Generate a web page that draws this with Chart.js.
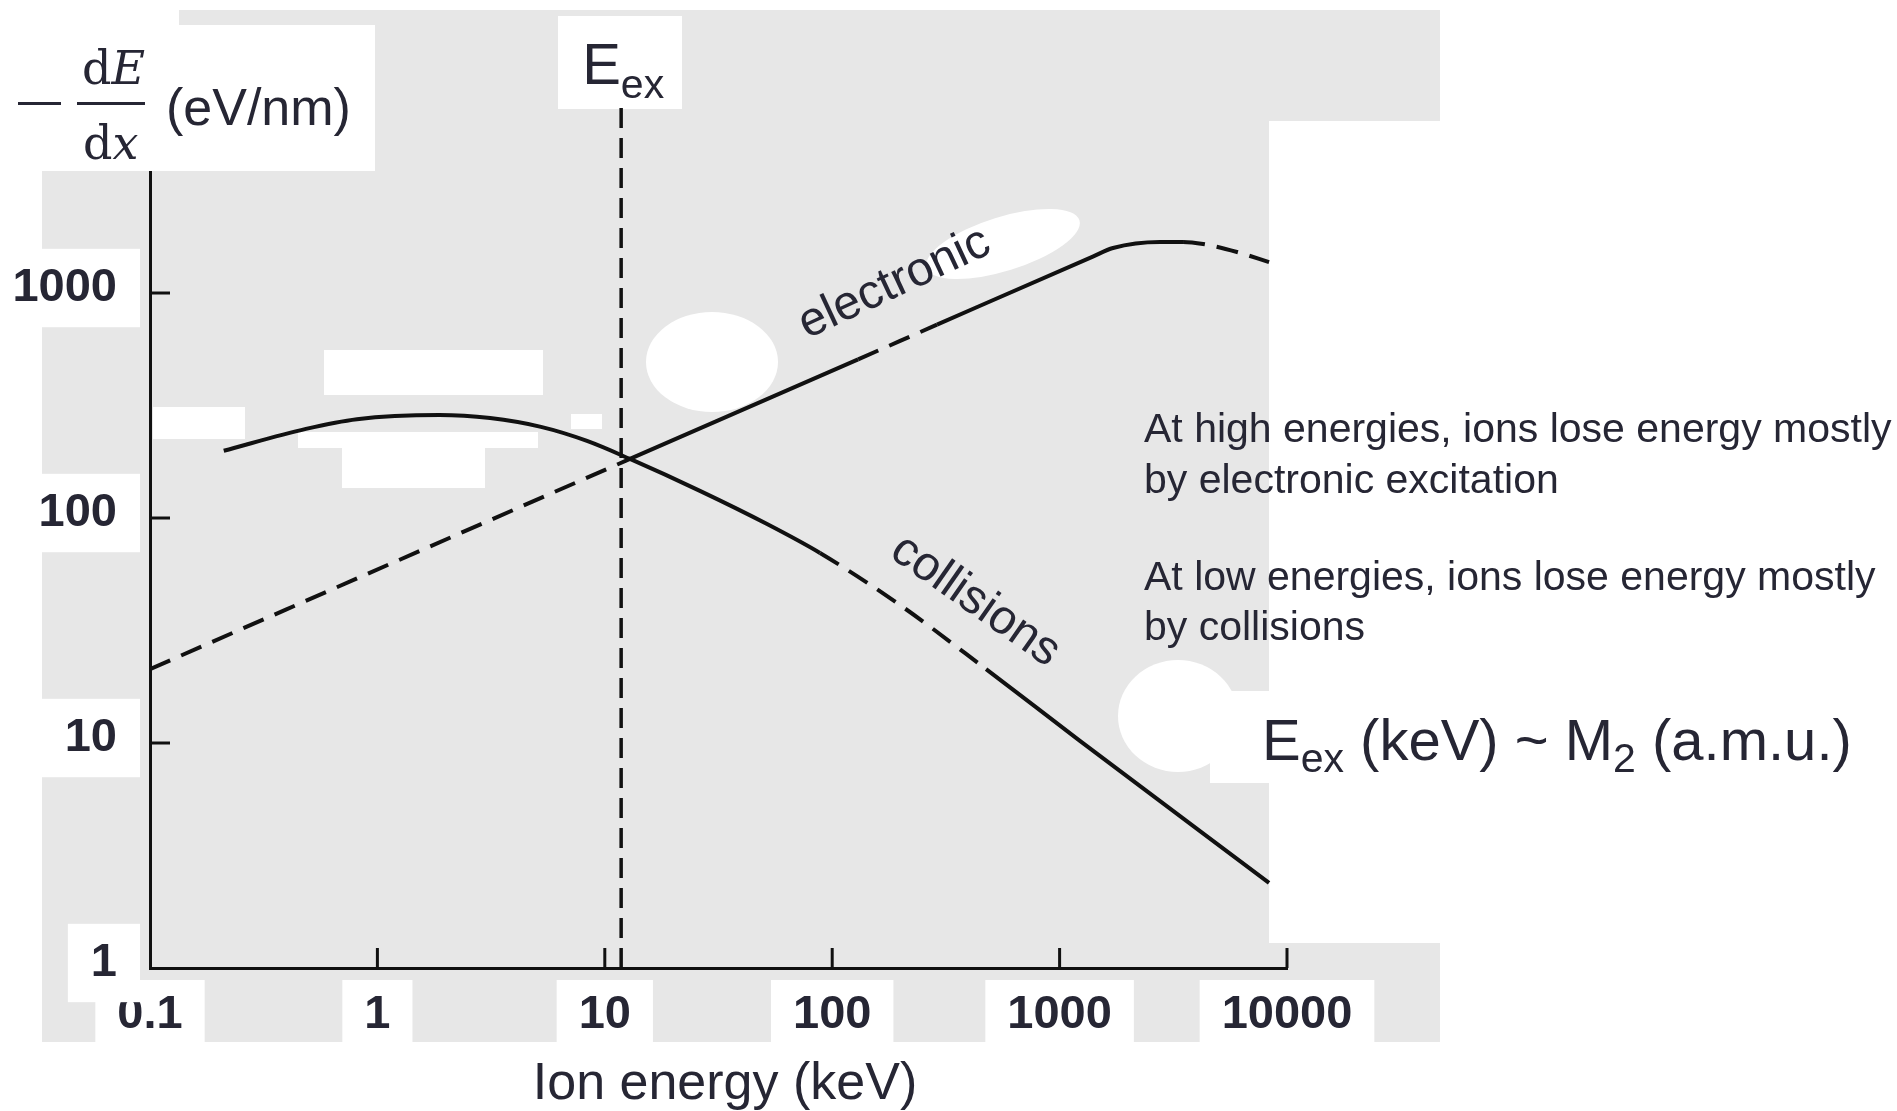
<!DOCTYPE html>
<html><head><meta charset="utf-8">
<script src="https://cdn.jsdelivr.net/npm/chart.js@4.4.1/dist/chart.umd.min.js"></script>
<style>html,body{margin:0;padding:0;background:#fff;overflow:hidden}#wrap{width:1897px;height:1111px}</style>
</head><body><div id="wrap"><canvas id="c" width="1897" height="1111"></canvas></div>
<script>
// ---- data ----
const electronicEnergy = [0.1, 12.9, 130, 289, 1400, 1717, 2762, 3490, 4276, 6026, 8337];
const electronicLoss   = [21.3, 183, 507, 723, 1452, 1585, 1686, 1686, 1651, 1521, 1373];
const electronicDashed = [[0.1, 12.9], [130, 289], [3490, 8337]];

const collisionEnergy = [0.211, 0.485, 0.813, 1.87, 3.13, 5.24, 8.35, 12.9, 26.2, 51.7, 88.4, 199, 475, 1216, 8337];
const collisionLoss   = [199, 249, 275, 287, 278, 254, 220, 183, 132, 94, 69.9, 41.0, 21.3, 10.3, 2.39];
const collisionDashed = [[88.4, 475]];

const eexEnergy = 11.8;
const eexLineRange = [1, 6710];

const xTickValues = [0.1, 1, 10, 100, 1000, 10000];
const xTickLabels = ['0.1', '1', '10', '100', '1000', '10000'];
const yTickValues = [1, 10, 100, 1000];
const yTickLabels = ['1', '10', '100', '1000'];
const xRange = [0.1, 10000];
const yRange = [1, 3450];

// ---- styling ----
const SANS = '"Liberation Sans", Arial, Helvetica, sans-serif';
const SERIF = '"DejaVu Serif", "Liberation Serif", serif';
const TEXT = '#262634';
const INK = '#111111';
const DASH = [22, 12];

function inRanges(a, b, ranges) {
  const m = Math.sqrt(a * b);
  return ranges.some(r => m >= r[0] && m <= r[1]);
}
function pts(xs, ys) { return xs.map((x, i) => ({x: x, y: ys[i]})); }

const bgPlugin = {
  id: 'bg',
  beforeDraw(chart) {
    const c = chart.ctx;
    c.save();
    c.fillStyle = '#ffffff';
    c.fillRect(0, 0, chart.width, chart.height);
    c.fillStyle = '#e7e7e7';
    const poly = [[179,10],[1440,10],[1440,121],[1269,121],[1269,943],[1440,943],[1440,1042],[42,1042],[42,171],[179,171]];
    c.beginPath();
    poly.forEach((p, i) => i ? c.lineTo(p[0], p[1]) : c.moveTo(p[0], p[1]));
    c.closePath(); c.fill();
    c.fillStyle = '#ffffff';
    // label boxes / erased patches of the scan
    c.fillRect(179, 25, 196, 146);
    c.fillRect(558, 16, 124, 93);
    c.fillRect(324, 350, 219, 45);
    c.fillRect(153, 407, 92, 32);
    c.fillRect(298, 432, 240, 16);
    c.fillRect(342, 446, 143, 42);
    c.fillRect(571, 414, 31, 15);
    c.fillRect(1210, 691, 60, 92);
    c.beginPath(); c.ellipse(712, 362, 66, 50, 0, 0, Math.PI * 2); c.fill();
    c.beginPath(); c.ellipse(1003, 244, 80, 27, -0.3, 0, Math.PI * 2); c.fill();
    c.beginPath(); c.ellipse(1178, 716, 60, 56, 0, 0, Math.PI * 2); c.fill();
    c.restore();
  }
};

const overlayPlugin = {
  id: 'overlay',
  afterDraw(chart) {
    const c = chart.ctx;
    const xs = chart.scales.x, ys = chart.scales.y;
    const area = chart.chartArea;
    c.save();
    // inward tick marks
    c.strokeStyle = INK; c.lineWidth = 3;
    yTickValues.slice(1).forEach(v => {
      const py = ys.getPixelForValue(v);
      c.beginPath(); c.moveTo(area.left, py); c.lineTo(area.left + 20, py); c.stroke();
    });
    xTickValues.slice(1).forEach(v => {
      const px = xs.getPixelForValue(v);
      c.beginPath(); c.moveTo(px, area.bottom); c.lineTo(px, area.bottom - 20); c.stroke();
    });

    c.fillStyle = TEXT;
    c.textBaseline = 'alphabetic';
    c.textAlign = 'left';
    // y-axis title: − dE/dx (eV/nm)
    c.fillRect(18, 102, 43, 3);
    c.fillRect(77, 102, 68, 3);
    c.font = '46px ' + SERIF;
    c.fillText('d', 82, 84);
    let w = c.measureText('d').width;
    c.font = 'italic 46px ' + SERIF;
    c.fillText('E', 82 + w, 84);
    c.font = '46px ' + SERIF;
    c.fillText('d', 83, 159);
    w = c.measureText('d').width;
    c.font = 'italic 46px ' + SERIF;
    c.fillText('x', 83 + w, 159);
    c.font = '52px ' + SANS;
    c.fillText('(eV/nm)', 166, 125);

    // E_ex label above the dashed line
    const ex = xs.getPixelForValue(eexEnergy);
    c.font = '58px ' + SANS;
    c.fillText('E', ex - 39, 84);
    w = c.measureText('E').width;
    c.font = '41px ' + SANS;
    c.fillText('ex', ex - 39 + w, 98);

    // x-axis title
    c.font = '52px ' + SANS;
    c.textAlign = 'center';
    c.fillText('Ion energy (keV)', 725, 1099);
    c.textAlign = 'left';

    // curve labels
    c.font = '48px ' + SANS;
    c.save(); c.translate(807, 339); c.rotate(-25 * Math.PI / 180); c.fillText('electronic', 0, 0); c.restore();
    c.save(); c.translate(888, 556); c.rotate(35 * Math.PI / 180); c.fillText('collisions', 0, 0); c.restore();

    // notes
    c.font = '41px ' + SANS;
    c.fillText('At high energies, ions lose energy mostly', 1144, 442);
    c.fillText('by electronic excitation', 1144, 493);
    c.fillText('At low energies, ions lose energy mostly', 1144, 590);
    c.fillText('by collisions', 1144, 640);

    // E_ex (keV) ~ M2 (a.m.u.)
    let x = 1262;
    c.font = '58px ' + SANS; c.fillText('E', x, 760); x += c.measureText('E').width;
    c.font = '41px ' + SANS; c.fillText('ex', x, 772); x += c.measureText('ex').width;
    c.font = '58px ' + SANS; c.fillText(' (keV) ~ M', x, 760); x += c.measureText(' (keV) ~ M').width;
    c.font = '41px ' + SANS; c.fillText('2', x, 772); x += c.measureText('2').width;
    c.font = '58px ' + SANS; c.fillText(' (a.m.u.)', x, 760);
    c.restore();
  }
};

new Chart(document.getElementById('c'), {
  type: 'line',
  data: {
    datasets: [
      {
        label: 'electronic',
        data: pts(electronicEnergy, electronicLoss),
        borderColor: INK, borderWidth: 4, pointRadius: 0, fill: false,
        cubicInterpolationMode: 'monotone',
        segment: { borderDash: ctx => inRanges(ctx.p0.parsed.x, ctx.p1.parsed.x, electronicDashed) ? DASH : undefined }
      },
      {
        label: 'collisions',
        data: pts(collisionEnergy, collisionLoss),
        borderColor: INK, borderWidth: 4, pointRadius: 0, fill: false,
        cubicInterpolationMode: 'monotone',
        segment: { borderDash: ctx => inRanges(ctx.p0.parsed.x, ctx.p1.parsed.x, collisionDashed) ? DASH : undefined }
      },
      {
        label: 'Eex',
        data: eexLineRange.map(v => ({x: eexEnergy, y: v})),
        borderColor: INK, borderWidth: 3.5, pointRadius: 0, fill: false,
        borderDash: [20, 10], clip: false
      }
    ]
  },
  options: {
    responsive: false,
    devicePixelRatio: 1,
    animation: false,
    events: [],
    layout: { padding: { left: 0, top: 172, right: 1897 - 1287, bottom: 0 } },
    plugins: { legend: { display: false }, tooltip: { enabled: false }, title: { display: false } },
    scales: {
      x: {
        type: 'logarithmic', min: xRange[0], max: xRange[1],
        afterFit: s => { s.height = 1111 - 968; },
        afterBuildTicks: s => { s.ticks = xTickValues.map(v => ({value: v})); },
        grid: { display: false, drawTicks: false },
        border: { display: true, color: INK, width: 3 },
        ticks: {
          autoSkip: false, maxRotation: 0, padding: 19,
          callback: (v, i) => xTickLabels[i],
          color: TEXT, font: { family: SANS, size: 47, weight: 'bold' },
          showLabelBackdrop: true, backdropColor: '#ffffff',
          backdropPadding: { top: 7, bottom: 7, left: 22, right: 22 }
        }
      },
      y: {
        type: 'logarithmic', min: yRange[0], max: yRange[1],
        afterFit: s => { s.width = 150; },
        afterBuildTicks: s => { s.ticks = yTickValues.map(v => ({value: v})); },
        grid: { display: false, drawTicks: false },
        border: { display: true, color: INK, width: 3 },
        ticks: {
          autoSkip: false, padding: 33, labelOffset: -5,
          callback: (v, i) => yTickLabels[i],
          color: TEXT, font: { family: SANS, size: 47, weight: 'bold' },
          showLabelBackdrop: true, backdropColor: '#ffffff',
          backdropPadding: { top: 11, bottom: 11, left: 23, right: 23 }
        }
      }
    }
  },
  plugins: [bgPlugin, overlayPlugin]
});
</script>
</body></html>
